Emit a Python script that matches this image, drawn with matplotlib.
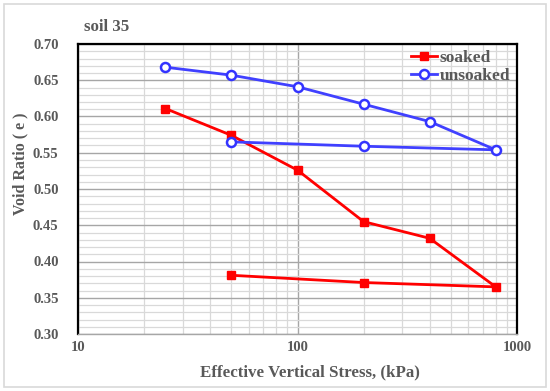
import matplotlib
matplotlib.use("Agg")
import matplotlib.pyplot as plt
from matplotlib.ticker import LogLocator, MultipleLocator, FixedLocator, NullFormatter
from matplotlib.patches import Rectangle

stress_soaked = [25, 50, 100, 200, 400, 800, 200, 50]
e_soaked = [0.611, 0.574, 0.526, 0.455, 0.432, 0.365, 0.371, 0.381]
stress_unsoaked = [25, 50, 100, 200, 400, 800, 200, 50]
e_unsoaked = [0.668, 0.657, 0.641, 0.617, 0.593, 0.554, 0.559, 0.565]
x_ticks = [10, 100, 1000]
x_ticklabels = ["10", "100", "1000"]

plt.rcParams['font.family'] = ['Liberation Serif', 'DejaVu Serif']
txt = '#595959'

W, H = 550, 391
fig = plt.figure(figsize=(5.5, 3.91), dpi=100)
ax = fig.add_axes([78 / W, 1 - 334 / H, (517 - 78) / W, (334 - 44) / H])

ax.set_xscale('log')
ax.set_xlim(10, 1000)
ax.set_ylim(0.30, 0.70)
ax.xaxis.set_major_locator(FixedLocator(x_ticks))
ax.set_xticklabels(x_ticklabels)
ax.xaxis.set_minor_locator(LogLocator(base=10, subs=range(2, 10)))
ax.xaxis.set_minor_formatter(NullFormatter())
ax.yaxis.set_minor_locator(MultipleLocator(0.01))
ax.set_yticks([0.30 + 0.05 * i for i in range(9)])
ax.set_yticklabels([f"{0.30 + 0.05 * i:.2f}" for i in range(9)])

ax.grid(which='major', color='#a6a6a6', linewidth=1.0)
ax.grid(which='minor', color='#d9d9d9', linewidth=0.9)
ax.set_axisbelow(True)

ax.plot(stress_soaked, e_soaked, color='#ff0000', linewidth=2, marker='s',
        markersize=6, markerfacecolor='#ff0000', markeredgecolor='#ff0000', label='soaked')
ax.plot(stress_unsoaked, e_unsoaked, color='#4040ff', linewidth=2, marker='o',
        markersize=6.5, markerfacecolor='white', markeredgecolor='#3333ff',
        markeredgewidth=1.8, label='unsoaked')

for s in ['left', 'top', 'right']:
    ax.spines[s].set_color('black')
    ax.spines[s].set_linewidth(1.6)
ax.spines['bottom'].set_color('#a6a6a6')
ax.spines['bottom'].set_linewidth(1.0)

ax.tick_params(which='both', length=0)
ax.tick_params(axis='y', pad=14, labelsize=10.5, labelcolor=txt)
ax.tick_params(axis='x', pad=5, labelsize=10.5, labelcolor=txt)
for lab in ax.get_xticklabels() + ax.get_yticklabels():
    lab.set_fontweight('bold')

fig.text(309.5 / W, 1 - 372 / H, 'Effective Vertical Stress, (kPa)', fontsize=12.2,
         fontweight='bold', color=txt, ha='center', va='center')
fig.text(20 / W, 1 - 164 / H, 'Void Ratio ( e )', fontsize=11.5, fontweight='bold',
         color=txt, ha='center', va='center', rotation=90)

fig.text(84 / W, 1 - 27 / H, 'soil 35', fontsize=12.2, fontweight='bold', color=txt,
         ha='left', va='center')

leg = ax.legend(loc='upper right', bbox_to_anchor=(1.02, 1.035), frameon=False,
                prop={'weight': 'bold', 'size': 12.5}, handlelength=1.5,
                handletextpad=0.15, labelspacing=0.15)
for t in leg.get_texts():
    t.set_color(txt)

fig.patches.append(Rectangle((0.007, 0.01), 0.986, 0.98, transform=fig.transFigure,
                             fill=False, edgecolor='#d9d9d9', linewidth=1.2))

fig.savefig('out.png', dpi=100)
